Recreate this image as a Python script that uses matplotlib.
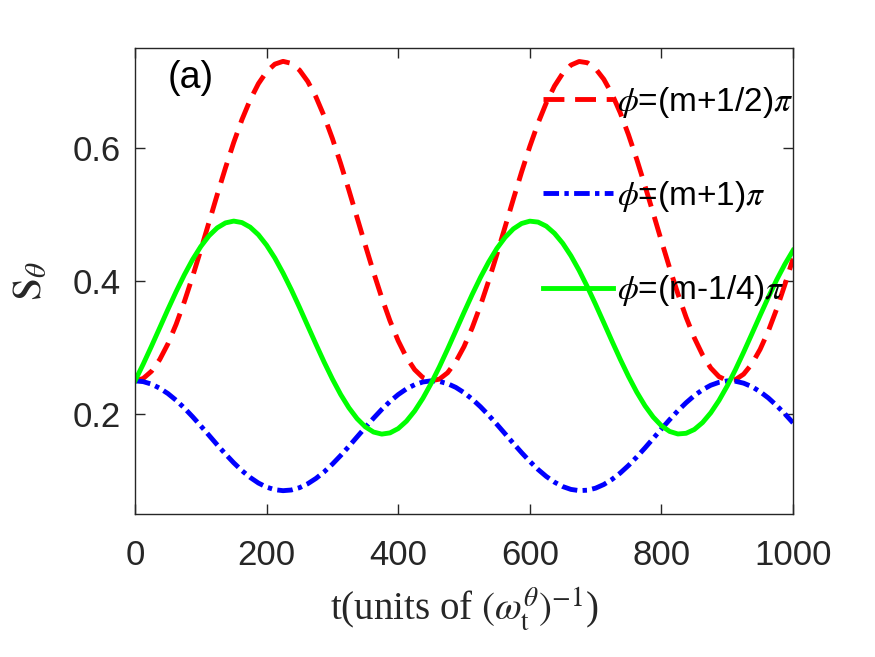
import matplotlib
matplotlib.use("Agg")
import matplotlib.pyplot as plt

t = [0, 12.5, 25, 37.5, 50, 62.5, 75, 87.5, 100, 112.5, 125, 137.5, 150, 162.5, 175, 187.5,
     200, 212.5, 225, 237.5, 250, 262.5, 275, 287.5, 300, 312.5, 325, 337.5, 350, 362.5,
     375, 387.5, 400, 412.5, 425, 437.5, 450, 462.5, 475, 487.5, 500, 512.5, 525, 537.5,
     550, 562.5, 575, 587.5, 600, 612.5, 625, 637.5, 650, 662.5, 675, 687.5, 700, 712.5,
     725, 737.5, 750, 762.5, 775, 787.5, 800, 812.5, 825, 837.5, 850, 862.5, 875, 887.5,
     900, 912.5, 925, 937.5, 950, 962.5, 975, 987.5, 1000]

s_half = [0.2500, 0.2536, 0.2644, 0.2819, 0.3056, 0.3350, 0.3690, 0.4067, 0.4469, 0.4883,
          0.5299, 0.5701, 0.6081, 0.6424, 0.6721, 0.6964, 0.7145, 0.7258, 0.7300, 0.7270,
          0.7168, 0.6998, 0.6765, 0.6475, 0.6140, 0.5765, 0.5366, 0.4951, 0.4537, 0.4131,
          0.3749, 0.3401, 0.3101, 0.2853, 0.2668, 0.2549, 0.2501, 0.2525, 0.2621, 0.2786,
          0.3014, 0.3299, 0.3632, 0.4003, 0.4402, 0.4815, 0.5231, 0.5637, 0.6021, 0.6371,
          0.6676, 0.6929, 0.7120, 0.7244, 0.7298, 0.7279, 0.7189, 0.7030, 0.6807, 0.6526,
          0.6196, 0.5828, 0.5431, 0.5019, 0.4602, 0.4195, 0.3809, 0.3456, 0.3146, 0.2890,
          0.2693, 0.2563, 0.2504, 0.2517, 0.2601, 0.2754, 0.2973, 0.3248, 0.3575, 0.3941,
          0.4336]

s_one = [0.2500, 0.2488, 0.2451, 0.2390, 0.2309, 0.2208, 0.2091, 0.1961, 0.1823, 0.1681,
         0.1538, 0.1400, 0.1269, 0.1151, 0.1049, 0.0965, 0.0903, 0.0865, 0.0850, 0.0860,
         0.0895, 0.0954, 0.1034, 0.1133, 0.1249, 0.1378, 0.1515, 0.1658, 0.1800, 0.1939,
         0.2071, 0.2190, 0.2294, 0.2379, 0.2442, 0.2483, 0.2500, 0.2491, 0.2458, 0.2402,
         0.2323, 0.2225, 0.2111, 0.1983, 0.1846, 0.1704, 0.1561, 0.1422, 0.1290, 0.1169,
         0.1064, 0.0978, 0.0912, 0.0869, 0.0851, 0.0857, 0.0888, 0.0943, 0.1020, 0.1116,
         0.1229, 0.1356, 0.1492, 0.1634, 0.1777, 0.1917, 0.2050, 0.2171, 0.2278, 0.2366,
         0.2434, 0.2478, 0.2499, 0.2494, 0.2465, 0.2413, 0.2337, 0.2243, 0.2130, 0.2005,
         0.1869]

s_quarter = [0.2500, 0.2752, 0.3020, 0.3296, 0.3573, 0.3841, 0.4093, 0.4322, 0.4519, 0.4680,
             0.4799, 0.4873, 0.4900, 0.4878, 0.4809, 0.4695, 0.4538, 0.4345, 0.4119, 0.3870,
             0.3603, 0.3326, 0.3050, 0.2780, 0.2527, 0.2296, 0.2096, 0.1932, 0.1809, 0.1731,
             0.1700, 0.1718, 0.1783, 0.1894, 0.2047, 0.2238, 0.2461, 0.2709, 0.2975, 0.3251,
             0.3528, 0.3799, 0.4054, 0.4286, 0.4490, 0.4656, 0.4783, 0.4864, 0.4899, 0.4885,
             0.4824, 0.4716, 0.4567, 0.4379, 0.4158, 0.3912, 0.3647, 0.3372, 0.3094, 0.2823,
             0.2566, 0.2331, 0.2126, 0.1956, 0.1826, 0.1740, 0.1702, 0.1712, 0.1769, 0.1873,
             0.2020, 0.2205, 0.2423, 0.2668, 0.2931, 0.3206, 0.3483, 0.3755, 0.4014, 0.4250,
             0.4459]

labels = [r"$\phi$=(m+1/2)$\pi$", r"$\phi$=(m+1)$\pi$", r"$\phi$=(m-1/4)$\pi$"]
xticks = [0, 200, 400, 600, 800, 1000]
yticks = [0.2, 0.4, 0.6]

plt.rcParams['font.family'] = ['Liberation Sans', 'DejaVu Sans']
plt.rcParams['mathtext.fontset'] = 'stix'

fig = plt.figure(figsize=(8.75, 6.57), dpi=100)
ax = fig.add_axes([0.1543, 0.2177, 0.752, 0.7092])

ax.plot(t, s_half, color='#FF0000', lw=3.5, dashes=(4.3, 2.2), label=labels[0])
ax.plot(t, s_one, color='#0000FF', lw=3.5, dashes=(3.2, 1.1, 0.9, 1.1), label=labels[1])
ax.plot(t, s_quarter, color='#00FF00', lw=3.5, label=labels[2])

ax.set_xlim(0, 1000)
ax.set_ylim(0.05, 0.75)
ax.set_xticks(xticks)
ax.set_yticks(yticks)
ax.set_xticklabels([str(v) for v in xticks])
ax.set_yticklabels([str(v) for v in yticks])

dark = '#262626'
for sp in ax.spines.values():
    sp.set_color(dark)
    sp.set_linewidth(1.0)
ax.tick_params(direction='in', length=7, width=1.0, colors=dark, labelsize=25,
               top=True, right=True, pad=10)
ax.tick_params(axis='x', pad=18)

ax.set_xlabel(r"t(units of $(\omega_{\mathrm{t}}^{\theta})^{\mathrm{-1}}$)",
              family='Liberation Serif', fontsize=28, color=dark, labelpad=10)
ax.set_ylabel(r"$\mathrm{S}_{\theta}$", fontsize=30, color=dark, labelpad=16)

ax.text(0.05, 0.936, "(a)", transform=ax.transAxes, fontsize=27, color='black',
        ha='left', va='center')

leg = ax.legend(loc='upper right', bbox_to_anchor=(1.02, 0.95), frameon=False,
                fontsize=24, handlelength=2.1, handletextpad=0.12, labelspacing=1.78,
                borderaxespad=0.0)

fig.savefig("out.png", dpi=100)
